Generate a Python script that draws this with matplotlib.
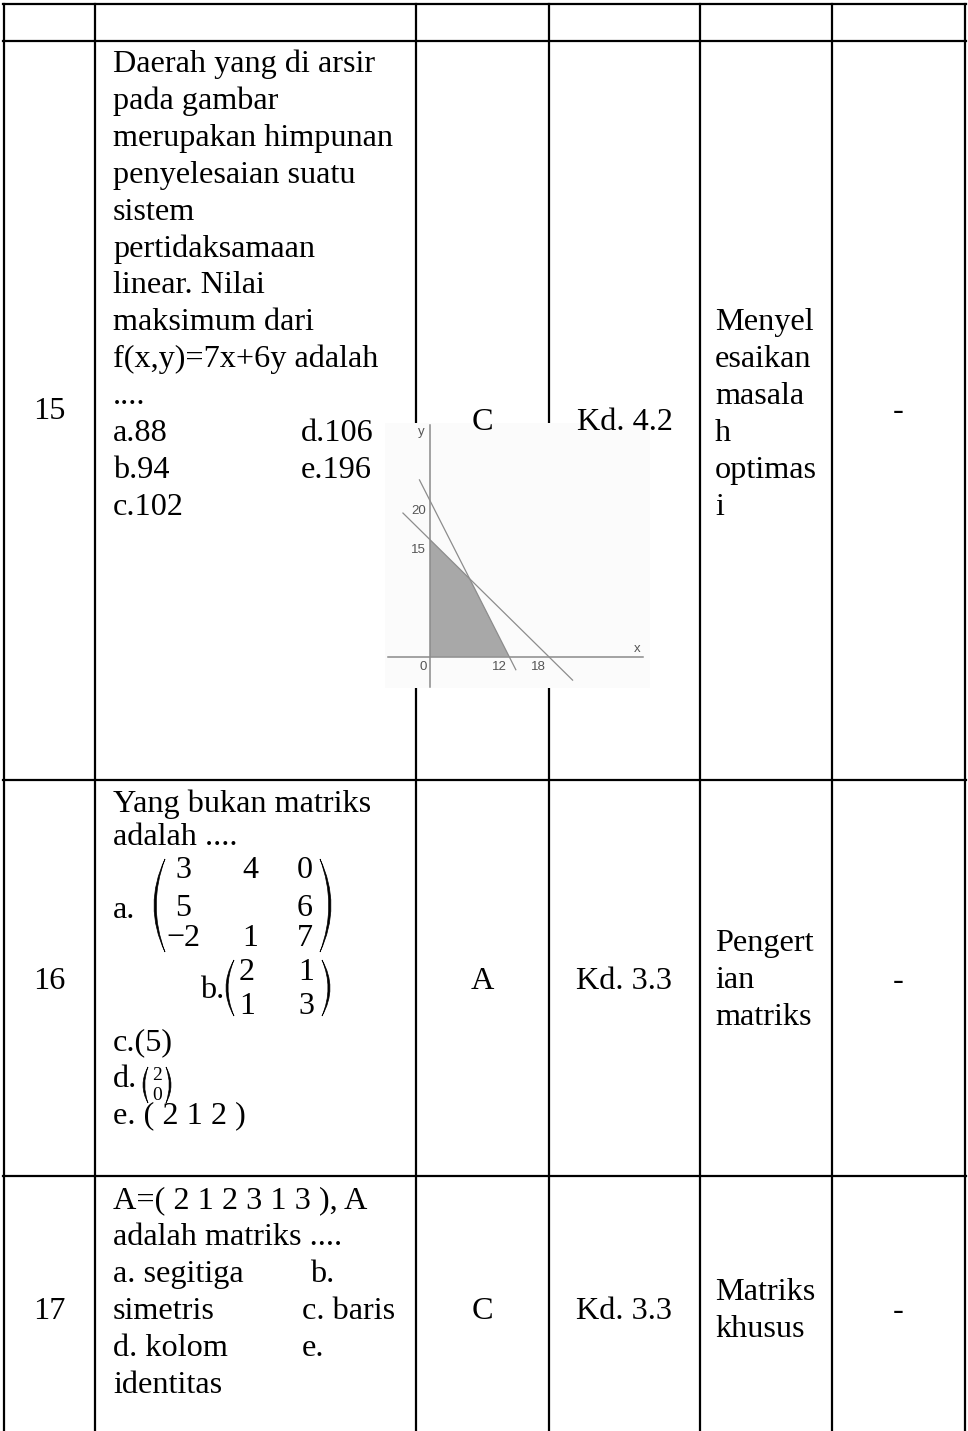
import matplotlib
matplotlib.use('Agg')
import matplotlib.pyplot as plt
from matplotlib.path import Path
from matplotlib.patches import PathPatch, Polygon
import numpy as np

W, H = 968, 1431
SERIF = 'Liberation Serif'
FS = 23.2

# table content
row_numbers = ['15', '16', '17']
answers = ['C', 'A', 'C']
kd_codes = ['Kd. 4.2', 'Kd. 3.3', 'Kd. 3.3']
topic_lines = [['Menyel', 'esaikan', 'masala', 'h', 'optimas', 'i'],
               ['Pengert', 'ian', 'matriks'],
               ['Matriks', 'khusus']]
notes = ['-', '-', '-']

q15_lines = ['Daerah yang di arsir', 'pada gambar', 'merupakan himpunan',
             'penyelesaian suatu', 'sistem', 'pertidaksamaan',
             'linear. Nilai', 'maksimum dari', 'f(x,y)=7x+6y adalah',
             '....', 'a.88', 'b.94', 'c.102']
q15_right = ['d.106', 'e.196']
q16_lines = ['Yang bukan matriks', 'adalah ....']
matrix_a = [['3', '4', '0'], ['5', '', '6'], ['\u22122', '1', '7']]
matrix_b = [['2', '1'], ['1', '3']]
vector_d = ['2', '0']
q16_tail = ['c.(5)', 'd.', 'e. ( 2 1 2 )']
q17_lines = ['A=( 2 1 2 3 1 3 ), A', 'adalah matriks ....', 'a. segitiga',
             'simetris', 'd. kolom', 'identitas']
q17_right = ['b.', 'c. baris', 'e.']

# graph of question 15
x_intercepts = [12, 18]
y_intercepts = [20, 15]
line_ranges = [(-1.6, 13.0), (-4.1, 21.6)]
feasible_x = [0, 0, 6, 12]
feasible_y = [0, 15, 10, 0]
x_ticks = [0, 12, 18]
y_ticks = [15, 20]
x_axis_range = (-6.4, 32.3)
y_axis_range = (-3.9, 29.7)

# layout (pixels)
col_x = [4, 95, 416, 549, 700, 832, 965]
row_y = [4, 41, 780, 1176]
num_base = [419, 989, 1319]
mid_base = [430, 989, 1319]


def paren(ax, x, y0, y1, w, side, t=3.0):
    # thin crescent shaped bracket, x = outermost point
    ym = (y0 + y1) / 2
    s = 1 if side == 'left' else -1
    xe = x + s * w
    verts = [(xe, y0), (x - s * w, ym), (xe, y1),
             (x - s * w + s * 2 * t, ym), (xe, y0)]
    codes = [Path.MOVETO, Path.CURVE3, Path.CURVE3, Path.CURVE3, Path.CURVE3]
    ax.add_patch(PathPatch(Path(verts, codes), fc='black', ec='black', lw=0.5))


def pixel_axes(z):
    a = fig.add_axes([0, 0, 1, 1])
    a.set_xlim(0, W)
    a.set_ylim(H, 0)
    a.axis('off')
    a.set_zorder(z)
    return a


fig = plt.figure(figsize=(W / 100, H / 100), dpi=100)
ax = pixel_axes(0)     # table grid
axt = pixel_axes(2)    # text on top

for y in row_y:
    ax.plot([col_x[0] - 1, col_x[-1] + 1], [y, y], color='black', lw=1.6,
            solid_capstyle='projecting')
for x in col_x:
    ax.plot([x, x], [row_y[0], H], color='black', lw=1.6)

txt = dict(family=SERIF, fontsize=FS, color='black', va='baseline')

# simple cells
for i in range(3):
    axt.text((col_x[0] + col_x[1]) / 2, num_base[i], row_numbers[i], ha='center', **txt)
    axt.text((col_x[2] + col_x[3]) / 2, mid_base[i], answers[i], ha='center', **txt)
    axt.text((col_x[3] + col_x[4]) / 2, mid_base[i], kd_codes[i], ha='center', **txt)
    axt.text((col_x[5] + col_x[6]) / 2, num_base[i], notes[i], ha='center', **txt)

# topic column
topic_start = [72 + 36.9 * 7, 951, 1300]
for i, lines in enumerate(topic_lines):
    for j, s in enumerate(lines):
        axt.text(715, topic_start[i] + 36.9 * j, s, ha='left', **txt)

# question 15
for j, s in enumerate(q15_lines):
    axt.text(113, 72 + 36.9 * j, s, ha='left', **txt)
for j, s in enumerate(q15_right):
    axt.text(301, 72 + 36.9 * (10 + j), s, ha='left', **txt)

# question 16
axt.text(113, 812, q16_lines[0], ha='left', **txt)
axt.text(113, 845, q16_lines[1], ha='left', **txt)
axt.text(113, 918, 'a.', ha='left', **txt)
mtx = dict(family=SERIF, fontsize=23, color='black', ha='center', va='center')
for r, row in enumerate(matrix_a):
    for c, v in enumerate(row):
        axt.text([183, 250, 305][c], [871, 908, 938][r], v, **mtx)
paren(axt, 154, 859, 952, 11, 'left', 2.2)
paren(axt, 331, 859, 952, 11, 'right', 2.2)
axt.text(200, 998, 'b.', ha='left', **txt)
for r, row in enumerate(matrix_b):
    for c, v in enumerate(row):
        axt.text([247, 306][c], [973, 1006][r], v, **mtx)
paren(axt, 226, 960, 1016, 8, 'left', 2.0)
paren(axt, 330, 960, 1016, 8, 'right', 2.0)
axt.text(113, 1050, q16_tail[0], ha='left', **txt)
axt.text(113, 1087, q16_tail[1], ha='left', **txt)
for r, v in enumerate(vector_d):
    axt.text(157, [1076, 1095][r], v, family=SERIF, fontsize=14, ha='center', va='center')
paren(axt, 143, 1067, 1103, 5, 'left', 1.7)
paren(axt, 171, 1067, 1103, 5, 'right', 1.7)
axt.text(113, 1123, q16_tail[2], ha='left', **txt)

# question 17
for j, s in enumerate(q17_lines):
    axt.text(113, 1208 + 37 * j, s, ha='left', **txt)
for j, s in enumerate(q17_right):
    axt.text(310 if j == 0 else 302, 1208 + 37 * (2 + j), s, ha='left', **txt)

# embedded graph (covers the grid, lies under the text)
gx0, gy0, gw, gh = 385, 423, 265, 265
axg = fig.add_axes([gx0 / W, 1 - (gy0 + gh) / H, gw / W, gh / H])
axg.set_zorder(1)
axg.set_facecolor('#fbfbfb')
for sp in axg.spines.values():
    sp.set_visible(False)
axg.set_xticks([])
axg.set_yticks([])
axg.set_xlim(-6.82, 33.33)
axg.set_ylim(-4.01, 29.96)

axg.add_patch(Polygon(np.column_stack([feasible_x, feasible_y]), closed=True,
                      fc='#a8a8a8', ec='none', zorder=1))
axg.plot(x_axis_range, [0, 0], color='#8a8a8a', lw=1.1, zorder=2)
axg.plot([0, 0], y_axis_range, color='#8a8a8a', lw=1.1, zorder=2)
for xi, yi, (a, b) in zip(x_intercepts, y_intercepts, line_ranges):
    xs = np.array([a, b])
    axg.plot(xs, yi * (1 - xs / xi), color='#8c8c8c', lw=0.9, zorder=3)

lab = dict(family='Liberation Sans', fontsize=9.5, color='#555555')
for v in x_ticks:
    axg.annotate(str(v), (v, 0), xytext=(-2, -3), textcoords='offset points',
                 ha='right', va='top', **lab)
for v in y_ticks:
    axg.annotate(str(v), (0, v), xytext=(-3, -3), textcoords='offset points',
                 ha='right', va='top', **lab)
axg.text(31.4, 1.0, 'x', ha='center', va='center', **lab)
axg.text(-1.3, 28.8, 'y', ha='center', va='center', **lab)

fig.savefig('out.png', dpi=100)
